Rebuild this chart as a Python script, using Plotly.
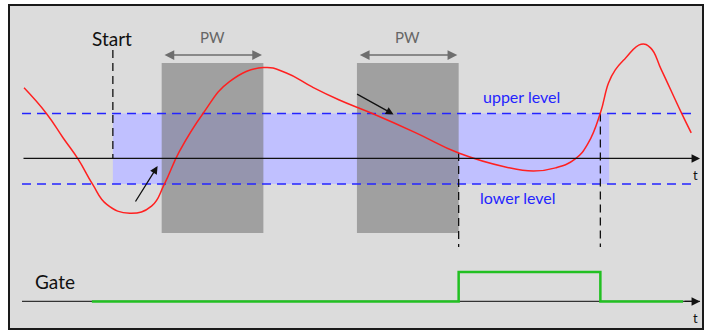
import plotly.graph_objects as go

# signal trace (time units, amplitude with upper level = 1)
curve_t = [0.3, 3.6, 6.1, 8.3, 10.4, 12.5, 15.9, 19.1, 21.0, 23.2, 26.7, 30.6, 35.6,
           39.0, 42.8, 46.8, 51.5, 58.1, 64.4, 71.3, 75.4, 78.7, 81.6, 83.5, 85.3,
           86.5, 87.5, 89.0, 91.3, 92.7, 94.3, 97.2, 98.7]
curve_v = [1.57, 1.00, 0.45, -0.02, -0.57, -1.02, -1.22, -1.06, -0.57, 0.15, 1.00,
           1.71, 2.02, 1.90, 1.59, 1.30, 1.01, 0.57, 0.12, -0.19, -0.28, -0.21, -0.01,
           0.34, 1.01, 1.68, 1.97, 2.23, 2.54, 2.46, 1.97, 1.03, 0.57]

upper_level = 1.0
lower_level = -0.57
level_t = [0, 99.3]

band_t = [13.4, 86.6]           # active trigger range (start -> end)
window_t0 = [20.6, 49.4]        # PW windows
pulse_width = 15.0
window_v = [-1.66, 2.12]

start_t = 13.4
start_v = [2.41, 0]
marker_t = [64.4, 85.3]
marker_top = [0.12, 1.0]
marker_bottom = -1.97

gate_t = [10.3, 64.4, 85.3, 97.5]
gate_v = [0, 1, 0, 0]

FONT = "Lato"

fig = go.Figure()

# band and PW windows
fig.add_shape(type="rect", xref="x", yref="y", x0=band_t[0], x1=band_t[1],
              y0=lower_level, y1=upper_level, fillcolor="#c0c0ff",
              line_width=0, layer="below")
for t0 in window_t0:
    fig.add_shape(type="rect", xref="x", yref="y", x0=t0, x1=t0 + pulse_width,
                  y0=window_v[0], y1=window_v[1],
                  fillcolor="rgba(120,120,120,0.6)", line_width=0, layer="below")

# level lines
for lv in (upper_level, lower_level):
    fig.add_trace(go.Scatter(x=level_t, y=[lv, lv], mode="lines",
                             line=dict(color="#2424ff", width=1.5, dash="9px,6px"),
                             hoverinfo="skip"))

# vertical dashed markers
fig.add_trace(go.Scatter(x=[start_t, start_t], y=start_v, mode="lines",
                         line=dict(color="#111", width=1.3, dash="8px,5px")))
for t, top in zip(marker_t, marker_top):
    fig.add_trace(go.Scatter(x=[t, t], y=[top, marker_bottom], mode="lines",
                             line=dict(color="#111", width=1.3, dash="8px,5px")))

# signal
fig.add_trace(go.Scatter(x=curve_t, y=curve_v, mode="lines",
                         line=dict(color="#ff2020", width=1.5, shape="spline",
                                   smoothing=1.3)))

# gate
fig.add_trace(go.Scatter(x=[0, 100], y=[0, 0], yaxis="y2", mode="lines",
                         line=dict(color="#333", width=1.3)))
fig.add_trace(go.Scatter(x=gate_t, y=gate_v, yaxis="y2", mode="lines",
                         line=dict(color="#22c022", width=2.5, shape="hv")))

ann = []
# time axes arrows
ann.append(dict(x=100, y=0, ax=0, ay=0, xref="x", yref="y", axref="x", ayref="y",
                showarrow=True, arrowhead=2, arrowsize=1.3, arrowwidth=1.3,
                arrowcolor="#111", text=""))
ann.append(dict(x=100, y=0, ax=97.5, ay=0, xref="x", yref="y2", axref="x", ayref="y2",
                showarrow=True, arrowhead=2, arrowsize=1.3, arrowwidth=1.3,
                arrowcolor="#111", text=""))
# PW arrows
for t0 in window_t0:
    ann.append(dict(x=t0 + pulse_width - 0.2, y=2.30, ax=t0 + 0.2, ay=2.30,
                    xref="x", yref="y", axref="x", ayref="y", showarrow=True,
                    arrowhead=2, startarrowhead=2, arrowside="end+start",
                    arrowsize=1.3, startarrowsize=1.3, arrowwidth=1.5,
                    arrowcolor="#6e6e6e", text=""))
    ann.append(dict(x=t0 + pulse_width / 2, y=2.70, xref="x", yref="y", text="PW",
                    showarrow=False, font=dict(family=FONT, size=15, color="#666")))
# pointer arrows
ann.append(dict(x=20.0, y=-0.17, ax=16.6, ay=-0.99, xref="x", yref="y", axref="x",
                ayref="y", showarrow=True, arrowhead=2, arrowsize=1.2, arrowwidth=1.3,
                arrowcolor="#111", text=""))
ann.append(dict(x=54.8, y=0.98, ax=49.2, ay=1.45, xref="x", yref="y", axref="x",
                ayref="y", showarrow=True, arrowhead=2, arrowsize=1.2, arrowwidth=1.3,
                arrowcolor="#111", text=""))
# labels
ann.append(dict(x=13.2, y=2.66, xref="x", yref="y", text="Start", showarrow=False,
                font=dict(family=FONT, size=19, color="#111")))
ann.append(dict(x=73.7, y=1.37, xref="x", yref="y", text="upper level", showarrow=False,
                font=dict(family=FONT, size=16, color="#2424ff")))
ann.append(dict(x=73.2, y=-0.86, xref="x", yref="y", text="lower level", showarrow=False,
                font=dict(family=FONT, size=16, color="#2424ff")))
ann.append(dict(x=99.4, y=-0.37, xref="x", yref="y", text="t", showarrow=False,
                font=dict(family=FONT, size=13, color="#111")))
ann.append(dict(x=99.4, y=-0.56, xref="x", yref="y2", text="t", showarrow=False,
                font=dict(family=FONT, size=13, color="#111")))
ann.append(dict(x=4.9, y=0.69, xref="x", yref="y2", text="Gate", showarrow=False,
                font=dict(family=FONT, size=19, color="#111")))

axis_style = dict(showgrid=False, zeroline=False, showticklabels=False, ticks="",
                  showline=True, mirror=True, linecolor="#1a1a1a", linewidth=2,
                  fixedrange=True)

fig.update_layout(
    width=707, height=332,
    margin=dict(l=10, r=3, t=6, b=4),
    paper_bgcolor="white",
    plot_bgcolor="#dcdcdc",
    showlegend=False,
    annotations=ann,
    xaxis=dict(range=[-1.77, 100.29], **axis_style),
    yaxis=dict(range=[-3.77, 3.39], **axis_style),
    yaxis2=dict(range=[-0.9, 10.02], overlaying="y", visible=False, fixedrange=True),
)

# page body has a default 8px margin; drop it so the figure sits at the corner
fig.write_html("out.html", config={"displayModeBar": False},
               post_script="document.body.style.margin='0';")
